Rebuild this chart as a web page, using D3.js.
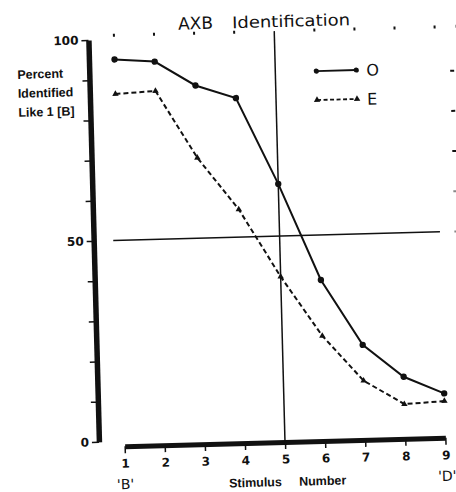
<!DOCTYPE html>
<html>
<head>
<meta charset="utf-8">
<script src="https://cdn.jsdelivr.net/npm/d3@7"></script>
<style>
  body { margin: 0; background: #fff; }
  svg { display: block; }
  text { fill: #111; }
</style>
</head>
<body>
<div id="viz-container"></div>
<script>
// stimulus numbers and percent identified like 1 [B]
let stimulus = [1, 2, 3, 4, 5, 6, 7, 8, 9];
let oValues = [95, 94.2, 88, 84.6, 63, 38.8, 22.4, 14.2, 9.8];
let eValues = [86.4, 86.9, 70, 56.9, 39.9, 24.9, 13.5, 7.4, 7.9];
let yLabelTicks = [0, 50, 100];
let endLabels = [{x: 1, t: "'B'"}, {x: 9, t: "'D'"}];
let rightTicks = [90, 80, 70, 60, 50];
let topTicks = [1, 2, 3, 4, 6, 7, 8, 9, 9.55];

let W = 456, H = 492;

let viz = d3.select("#viz-container")
    .append("svg")
        .attr("width", W)
        .attr("height", H)
;

let x = d3.scaleLinear().domain([1, 9]).range([124.6, 445.4]);
let y = d3.scaleLinear().domain([0, 100]).range([437, 35]);
let axisY0 = 442;

// the scan is a bit tilted, so draw everything straight then rotate
let g = viz.append("g")
    .attr("transform", `rotate(-1.5, ${x(5)}, ${axisY0})`);

// title
g.append("text")
    .attr("x", 189).attr("y", 27)
    .attr("font-family", "DejaVu Sans")
    .attr("font-size", 17)
    .text("AXB");
g.append("text")
    .attr("x", 243).attr("y", 27)
    .attr("font-family", "DejaVu Sans")
    .attr("font-size", 16)
    .attr("textLength", 118)
    .attr("lengthAdjust", "spacingAndGlyphs")
    .text("Identification");

// y axis
let yAxis = g.append("g")
    .attr("transform", "translate(99,0)")
    .call(d3.axisLeft(y)
        .tickValues(d3.range(0, 101, 10))
        .tickSize(7)
        .tickSizeOuter(0)
        .tickFormat(d => yLabelTicks.includes(d) ? d : ""));
yAxis.select(".domain").attr("stroke-width", 5.5).attr("stroke", "#111");
yAxis.selectAll(".tick line").attr("stroke-width", 1.5).attr("stroke", "#111");
yAxis.selectAll(".tick text")
    .attr("font-family", "DejaVu Sans")
    .attr("font-weight", "bold")
    .attr("font-size", 12)
    .attr("x", -10)
    .attr("fill", "#111");

// y label
let yLab = ["Percent", "Identified", "Like 1 [B]"];
g.selectAll(".ylab").data(yLab).enter()
    .append("text")
        .attr("class", "ylab")
        .attr("x", 27)
        .attr("y", (d, i) => 72 + i * 19)
        .attr("font-family", "Liberation Sans Narrow, Liberation Sans")
        .attr("font-weight", "bold")
        .attr("font-size", 12.5)
        .text(d => d);

// x axis
let xAxis = g.append("g")
    .attr("transform", `translate(0,${axisY0})`)
    .call(d3.axisBottom(x)
        .tickValues(stimulus)
        .tickSize(7)
        .tickSizeOuter(0)
        .tickFormat(d3.format("d")));
xAxis.select(".domain").attr("stroke-width", 5).attr("stroke", "#111");
xAxis.selectAll(".tick line").attr("stroke-width", 1.5).attr("stroke", "#111");
xAxis.selectAll(".tick text")
    .attr("font-family", "DejaVu Sans")
    .attr("font-weight", "bold")
    .attr("font-size", 12)
    .attr("y", 13)
    .attr("fill", "#111");

g.selectAll(".endLab").data(endLabels).enter()
    .append("text")
        .attr("class", "endLab")
        .attr("x", d => x(d.x) + (d.x == 9 ? 1 : 0))
        .attr("y", 485)
        .attr("text-anchor", "middle")
        .attr("font-family", "DejaVu Sans")
        .attr("font-size", 14)
        .text(d => d.t);

g.append("text")
    .attr("x", 228).attr("y", 486)
    .attr("font-family", "Liberation Sans Narrow, Liberation Sans")
    .attr("font-weight", "bold")
    .attr("font-size", 12.5)
    .text("Stimulus");
g.append("text")
    .attr("x", 298).attr("y", 486)
    .attr("font-family", "Liberation Sans Narrow, Liberation Sans")
    .attr("font-weight", "bold")
    .attr("font-size", 12.5)
    .text("Number");

// reference lines: 50% and stimulus 5
g.append("line")
    .attr("x1", x(1) - 6).attr("x2", x(9))
    .attr("y1", y(50)).attr("y2", y(50))
    .attr("stroke", "#111").attr("stroke-width", 1.5);
g.append("line")
    .attr("x1", x(5)).attr("x2", x(5))
    .attr("y1", y(101)).attr("y2", axisY0)
    .attr("stroke", "#111").attr("stroke-width", 1.5);

// little frame marks from the graph paper
g.selectAll(".topTick").data(topTicks).enter()
    .append("rect")
        .attr("class", "topTick")
        .attr("x", d => x(d) - 1)
        .attr("y", y(101) - 1.5)
        .attr("width", 2)
        .attr("height", 3)
        .attr("fill", "#111");
g.selectAll(".rightTick").data(rightTicks).enter()
    .append("rect")
        .attr("class", "rightTick")
        .attr("x", x(9.41) - 2)
        .attr("y", d => y(d) - 1)
        .attr("width", 4)
        .attr("height", 2)
        .attr("fill", "#111")
        .attr("opacity", (d, i) => i > 2 ? 0.5 : 1);

// series
let line = d3.line().x(d => x(d[0])).y(d => y(d[1]));
let oData = d3.zip(stimulus, oValues);
let eData = d3.zip(stimulus, eValues);

g.append("path")
    .attr("d", line(eData))
    .attr("fill", "none")
    .attr("stroke", "#111")
    .attr("stroke-width", 2)
    .attr("stroke-dasharray", "5,3");
g.append("path")
    .attr("d", line(oData))
    .attr("fill", "none")
    .attr("stroke", "#111")
    .attr("stroke-width", 2);

let tri = d3.symbol().type(d3.symbolTriangle).size(18);
g.selectAll(".ePt").data(eData).enter()
    .append("path")
        .attr("class", "ePt")
        .attr("d", tri)
        .attr("transform", d => `translate(${x(d[0])},${y(d[1])})`)
        .attr("fill", "#111");
g.selectAll(".oPt").data(oData).enter()
    .append("circle")
        .attr("class", "oPt")
        .attr("cx", d => x(d[0]))
        .attr("cy", d => y(d[1]))
        .attr("r", 3.2)
        .attr("fill", "#111");

// legend
let legend = [{name: "O", dash: null, y: 72}, {name: "E", dash: "4,2.5", y: 101}];
let lg = g.selectAll(".leg").data(legend).enter()
    .append("g")
        .attr("class", "leg")
        .attr("transform", d => `translate(326,${d.y})`);
lg.append("line")
    .attr("x1", 0).attr("x2", 40)
    .attr("stroke", "#111").attr("stroke-width", 1.8)
    .attr("stroke-dasharray", d => d.dash);
lg.filter(d => d.name == "O").selectAll("circle").data([0, 40]).enter()
    .append("circle").attr("cx", d => d).attr("r", 2.6).attr("fill", "#111");
lg.filter(d => d.name == "E").selectAll("path").data([0, 40]).enter()
    .append("path").attr("d", tri).attr("transform", d => `translate(${d},0)`).attr("fill", "#111");
lg.append("text")
    .attr("x", 50).attr("y", 6)
    .attr("font-family", "DejaVu Sans")
    .attr("font-size", 16)
    .text(d => d.name);
</script>
</body>
</html>
